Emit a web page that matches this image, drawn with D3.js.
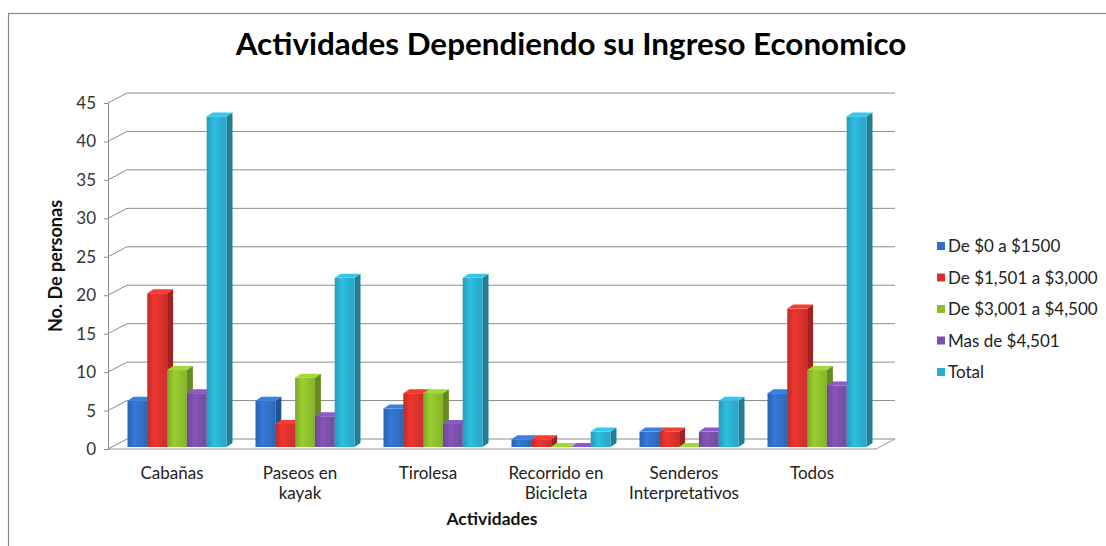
<!DOCTYPE html>
<html>
<head>
<meta charset="utf-8">
<script src="https://cdn.jsdelivr.net/npm/d3@7"></script>
<style>
  body { margin: 0; background: #fff; }
  svg { display: block; font-family: Lato, "Open Sans", sans-serif; }
</style>
</head>
<body>
<svg id="chart" width="1106" height="546"></svg>
<script>
const categories = ["Cabañas", "Paseos en kayak", "Tirolesa", "Recorrido en Bicicleta", "Senderos Interpretativos", "Todos"]
const catLines = [["Cabañas"], ["Paseos en", "kayak"], ["Tirolesa"], ["Recorrido en", "Bicicleta"], ["Senderos", "Interpretativos"], ["Todos"]]
const series = ["De $0 a $1500", "De $1,501 a $3,000", "De $3,001 a $4,500", "Mas de $4,501", "Total"]
const low = [6, 6, 5, 1, 2, 7]
const mid = [20, 3, 7, 1, 2, 18]
const high = [10, 9, 7, 0, 0, 10]
const top4501 = [7, 4, 3, 0, 2, 8]
const total = [43, 22, 22, 2, 6, 43]
const yTicks = [0, 5, 10, 15, 20, 25, 30, 35, 40, 45]
const colors = ["#2f6fc6", "#d9312b", "#8cbd2c", "#7a4fa9", "#2aaecf"]

const values = [low, mid, high, top4501, total]

const svg = d3.select("#chart")

// outer border
svg.append("rect")
  .attr("x", 8.5).attr("y", 13.5)
  .attr("width", 1110).attr("height", 545)
  .attr("fill", "#fff")
  .attr("stroke", "#8a8a8a")
  .attr("stroke-width", 1.2)

const depth = { dx: 19, dy: -10 }

let y = d3.scaleLinear().domain([0, 45]).range([449, 103])
let x0 = d3.scaleBand().domain(categories).range([108, 876])
let x1 = d3.scaleBand().domain(series).range([14.5, 113.5])

// gradients
let defs = svg.append("defs")
colors.forEach(function(c, i) {
  let g = defs.append("linearGradient").attr("id", "grad" + i)
    .attr("x1", "0").attr("x2", "1").attr("y1", "0").attr("y2", "0")
  g.append("stop").attr("offset", "0%").attr("stop-color", d3.color(c).darker(0.35))
  g.append("stop").attr("offset", "35%").attr("stop-color", d3.color(c).brighter(0.25))
  g.append("stop").attr("offset", "100%").attr("stop-color", d3.color(c).darker(0.15))
})

// back wall gridlines + left wall diagonals
let grid = svg.append("g").attr("stroke", "#8c8c8c").attr("stroke-width", 1).attr("fill", "none")
yTicks.forEach(function(t) {
  let yy = y(t)
  grid.append("line")
    .attr("x1", 108).attr("y1", yy)
    .attr("x2", 108 + depth.dx).attr("y2", yy + depth.dy)
  grid.append("line")
    .attr("x1", 108 + depth.dx).attr("y1", yy + depth.dy)
    .attr("x2", 876 + depth.dx).attr("y2", yy + depth.dy)
})

// floor
grid.append("path")
  .attr("d", "M108," + y(0) + "L876," + y(0) + "L" + (876 + depth.dx) + "," + (y(0) + depth.dy))
  .attr("stroke", "#9a9a9a")

// y axis
let yAxis = d3.axisLeft(y).tickValues(yTicks).tickSize(4).tickPadding(8)
let ya = svg.append("g").attr("transform", "translate(108,0)").call(yAxis)
ya.select(".domain").attr("stroke", "#8c8c8c")
ya.selectAll(".tick line").attr("stroke", "#8c8c8c")
ya.selectAll("text").attr("font-size", 17).attr("fill", "#333").attr("font-family", "Lato, sans-serif")

// bars
let bd = { dx: 6, dy: -4 }
let barShift = 5
let bars = svg.append("g")
categories.forEach(function(cat, ci) {
  series.forEach(function(s, si) {
    let v = values[si][ci]
    let bx = x0(cat) + x1(s) + barShift
    let w = x1.bandwidth()
    let base = y(0) - 2
    let top = y(v) - 2
    let g = bars.append("g")
    let c = d3.color(colors[si])
    // side
    g.append("path")
      .attr("d", "M" + (bx + w) + "," + top + "L" + (bx + w + bd.dx) + "," + (top + bd.dy) +
        "L" + (bx + w + bd.dx) + "," + (base + bd.dy) + "L" + (bx + w) + "," + base + "Z")
      .attr("fill", c.darker(0.9))
    // front
    if (v > 0) {
      g.append("rect")
        .attr("x", bx).attr("y", top)
        .attr("width", w).attr("height", base - top)
        .attr("fill", "url(#grad" + si + ")")
    }
    // top
    g.append("path")
      .attr("d", "M" + bx + "," + top + "L" + (bx + bd.dx) + "," + (top + bd.dy) +
        "L" + (bx + w + bd.dx) + "," + (top + bd.dy) + "L" + (bx + w) + "," + top + "Z")
      .attr("fill", c.brighter(0.4))
  })
})

// category labels
categories.forEach(function(cat, ci) {
  let t = svg.append("text")
    .attr("x", x0(cat) + x0.bandwidth() / 2)
    .attr("y", 479)
    .attr("text-anchor", "middle")
    .attr("font-size", 17)
    .attr("fill", "#222")
  catLines[ci].forEach(function(line, li) {
    t.append("tspan").attr("x", x0(cat) + x0.bandwidth() / 2).attr("dy", li === 0 ? 0 : 20).text(line)
  })
})

// axis titles
svg.append("text")
  .attr("x", 492).attr("y", 525)
  .attr("text-anchor", "middle")
  .attr("font-size", 17.5).attr("font-weight", "bold").attr("fill", "#111")
  .text("Actividades")

svg.append("text")
  .attr("transform", "translate(62,266) rotate(-90)")
  .attr("text-anchor", "middle")
  .attr("font-size", 18).attr("font-weight", "bold").attr("fill", "#111")
  .text("No. De personas")

// chart title
svg.append("text")
  .attr("x", 571).attr("y", 55)
  .attr("text-anchor", "middle")
  .attr("font-size", 31.4).attr("font-weight", "bold").attr("fill", "#000")
  .text("Actividades Dependiendo su Ingreso Economico")

// legend
let legend = svg.append("g").attr("transform", "translate(937,246)")
series.forEach(function(s, i) {
  let row = legend.append("g").attr("transform", "translate(0," + (i * 31.5) + ")")
  row.append("rect")
    .attr("x", 0).attr("y", -4)
    .attr("width", 8).attr("height", 8)
    .attr("fill", colors[i])
  row.append("text")
    .attr("x", 11).attr("y", 6)
    .attr("font-size", 17).attr("fill", "#222")
    .text(s)
})
</script>
</body>
</html>
